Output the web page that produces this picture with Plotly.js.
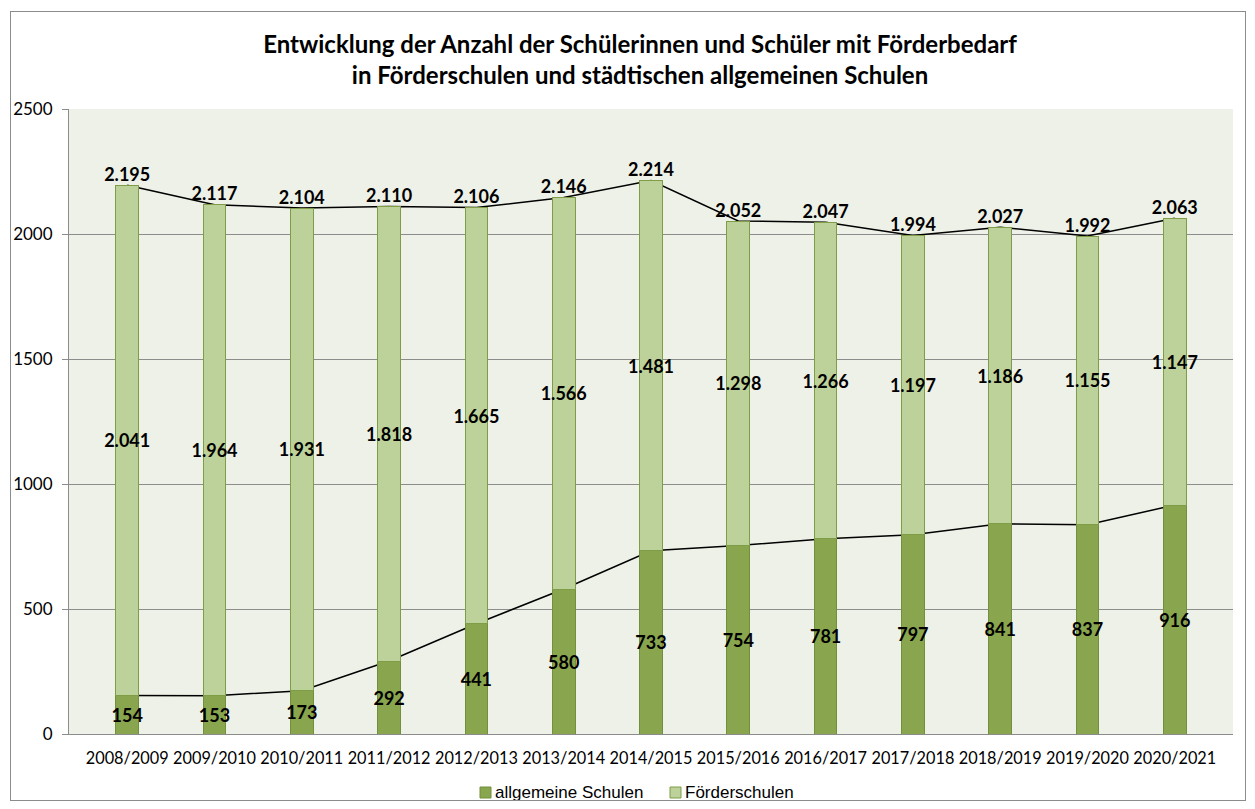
<!DOCTYPE html>
<html><head><meta charset="utf-8">
<script src="https://cdn.plot.ly/plotly-3.0.1.min.js"></script>
<style>
html,body{margin:0;padding:0;background:#fff;}
#chart{width:1255px;height:809px;}
#frame{position:absolute;left:10px;top:11px;width:1234px;height:788px;border:1px solid #8c8c8c;pointer-events:none;}
</style>
</head><body>
<div id="chart"></div><div id="frame"></div>
<script>
const years = ["2008/2009","2009/2010","2010/2011","2011/2012","2012/2013","2013/2014","2014/2015","2015/2016","2016/2017","2017/2018","2018/2019","2019/2020","2020/2021"];
const allgemeineSchulen = [154,153,173,292,441,580,733,754,781,797,841,837,916];
const foerderschulen = [2041,1964,1931,1818,1665,1566,1481,1298,1266,1197,1186,1155,1147];
const gesamt = [2195,2117,2104,2110,2106,2146,2214,2052,2047,1994,2027,1992,2063];
const seriesNames = ["allgemeine Schulen","Förderschulen"];
const seriesColors = ["#89a54e","#bcd29a"];
const seriesLines = ["#71903b","#7f9c47"];

const labelFont = {family:"Lato, 'Open Sans', sans-serif", size:18, color:"#000", weight:700};
const xTickFont = {family:"Lato, 'Open Sans', sans-serif", size:16.3, color:"#000"};
const yTickFont = {family:"Lato, 'Open Sans', sans-serif", size:17, color:"#000"};
const legendFont = {family:"'Liberation Sans', Arial, sans-serif", size:17, color:"#000"};

const traces = [
  {type:"scatter", x:years, y:gesamt, mode:"lines+text", line:{color:"#000",width:1.5},
   text:gesamt, texttemplate:"%{y:,}", textposition:"top center", textfont:labelFont,
   showlegend:false, hoverinfo:"skip", xaxis:"x", yaxis:"y", cliponaxis:false},
  {type:"scatter", x:years, y:allgemeineSchulen, mode:"lines", line:{color:"#000",width:1.5},
   showlegend:false, hoverinfo:"skip", xaxis:"x", yaxis:"y"},
  {type:"bar", name:seriesNames[0], x:years, y:allgemeineSchulen,
   marker:{color:seriesColors[0], line:{color:seriesLines[0], width:1}},
   texttemplate:"%{y:,}", textposition:"inside", insidetextanchor:"middle", textangle:0,
   constraintext:"none", textfont:labelFont, xaxis:"x2", yaxis:"y2", showlegend:false},
  {type:"bar", name:seriesNames[1], x:years, y:foerderschulen,
   marker:{color:seriesColors[1], line:{color:seriesLines[1], width:1}},
   texttemplate:"%{y:,}", textposition:"inside", insidetextanchor:"middle", textangle:0,
   constraintext:"none", textfont:labelFont, xaxis:"x2", yaxis:"y2", showlegend:false}
];

const W = 1255, H = 809;
const ml = 69, mr = 22, mt = 109, mb = 75;
const pw = W - ml - mr, ph = H - mt - mb;
const px = v => (v - ml) / pw;
const py = v => (H - mb - v) / ph;

// custom legend (square + text)
const legendX = [480, 670];
const shapes = [], annotations = [];
legendX.forEach((lx, i) => {
  shapes.push({type:"rect", xref:"paper", yref:"paper", layer:"above",
    x0:px(lx), x1:px(lx + 11), y0:py(798), y1:py(787),
    fillcolor:seriesColors[i], line:{color:seriesLines[i], width:1}});
  annotations.push({xref:"paper", yref:"paper", x:px(lx + 13), y:py(792.5), xanchor:"left", yanchor:"middle",
    text:seriesNames[i], showarrow:false, font:legendFont});
});

const yBase = {range:[0,2500], dtick:500, tickformat:"d", fixedrange:true};
const layout = {
  width:W, height:H,
  margin:{l:ml, r:mr, t:mt, b:mb},
  paper_bgcolor:"#ffffff", plot_bgcolor:"#eef1e7",
  separators:",.",
  barmode:"stack", bargap:0.74,
  title:{text:"<b>Entwicklung der Anzahl der Schülerinnen und Schüler mit Förderbedarf<br>in Förderschulen und städtischen allgemeinen Schulen</b>",
         font:{family:"Lato, 'Open Sans', sans-serif", size:24, color:"#000"},
         x:0.51, xanchor:"center", y:0.9345, yanchor:"middle", yref:"container"},
  xaxis:{type:"category", tickfont:xTickFont, tickangle:0, showline:true, linecolor:"#8c8c8c", linewidth:1,
         ticks:"", showgrid:false, fixedrange:true, automargin:false, ticklabelstandoff:9},
  yaxis:Object.assign({}, yBase, {tickfont:yTickFont, showline:true, linecolor:"#8c8c8c", linewidth:1,
         ticks:"outside", ticklen:6, tickcolor:"#8c8c8c", showgrid:true, gridcolor:"#8c8c8c", gridwidth:1,
         zeroline:false, automargin:false, ticklabelstandoff:6}),
  xaxis2:{type:"category", overlaying:"x", matches:"x", showticklabels:false, showgrid:false, showline:false, ticks:""},
  yaxis2:Object.assign({}, yBase, {overlaying:"y", showticklabels:false, showgrid:false, showline:false, zeroline:false, ticks:""}),
  shapes:shapes, annotations:annotations,
  showlegend:false
};
Plotly.newPlot("chart", traces, layout, {displayModeBar:false, staticPlot:true});
</script>
</body></html>
